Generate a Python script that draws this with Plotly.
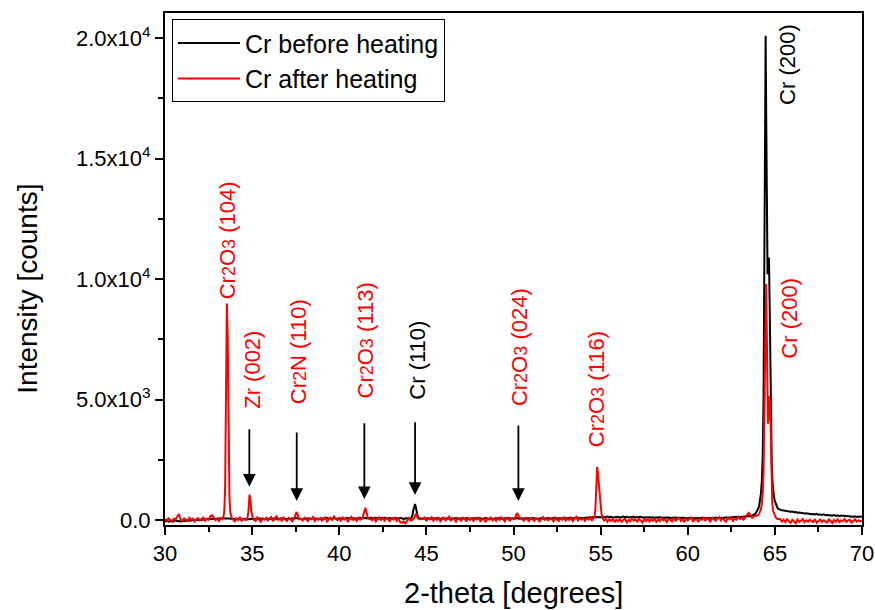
import numpy as np
import plotly.graph_objects as go

# ---- scan grid (2-theta, degrees) for the background sections ----
grid_2theta = np.round(np.arange(30.0, 70.0001, 0.1), 1)

# background counts on the 0.1 deg grid, one row per degree (30.x ... 69.x, then 70.0)
after_background = [
    40, -30, 70, 10, -80, 50, 20, 130, 250, 10,
    -50, 60, 20, -40, 90, 0, 50, -70, 30, 80,
    -20, 40, 100, -30, 60, 10, 150, 190, 60, -10,
    50, -40, 80, 30, 30, 30, 30, 30, 30, 20,
    -60, 70, 10, 120, -30, 50, 0, 30, 30, 30,
    30, 80, -40, 110, 20, -70, 60, 10, 90, -20,
    40, 120, -50, 70, 150, 0, 60, -30, 100, 20,
    -40, 80, 30, -60, 30, 30, 30, 30, 50, -30,
    90, 10, -50, 70, 20, 120, -40, 60, 0, 80,
    -30, 50, 110, -60, 30, 90, -20, 140, 40, -10,
    70, -50, 100, 20, 60, -80, 40, 130, 0, 50,
    -40, 90, 10, 30, 30, 30, 30, 30, 30, -20,
    80, -60, 40, 110, 0, 70, -30, 90, 20, -50,
    60, 10, 120, -40, 50, -90, -120, -60, -140, -20,
    80, -30, 30, 30, 30, 30, 30, 30, 40, 100,
    -50, 70, 20, 110, -30, 60, 0, 90, -60, 40,
    100, -20, 50, 130, -40, 70, 10, -70, 80, 30,
    -30, 90, 40, -60, 110, 0, 60, -40, 80, 20,
    120, -50, 30, 70, -90, 50, 10, 100, -20, 60,
    -40, 80, 0, 110, 30, -60, 90, 20, -30, 70,
    10, 60, 30, 30, 30, 30, -30, 80, 20, -50,
    90, 10, -40, 70, 40, -80, 60, 120, 0, 40,
    -20, 80, 30, -60, 100, 20, -40, 70, 10, 110,
    -30, 60, 0, 90, -50, 40, 130, -20, 70, 10,
    60, -40, 80, 20, 110, -30, 30, 30, 30, 30,
    30, 30, -20, 40, -70, 30, -40, 60, -90, 20,
    -50, 40, -80, 10, 50, -100, 0, -60, 70, -30,
    20, -70, 40, -20, -110, 30, -40, 60, -60, 10,
    -30, 50, -80, 20, -50, 80, -20, 30, -90, 40,
    10, -60, 70, -30, 40, 100, -40, 20, -70, 60,
    -20, 30, 90, -50, 10, 60, -80, 40, 0, 110,
    -40, 70, 20, -60, 90, 10, -30, 50, 120, -20,
    60, 0, -70, 80, 30, 100, -40, 50, 10, 130,
    40, 90, 10, 110, 230, 300, 180, 90, 150, 170,
    30, 30, 30, 30, 30, 30, 30, 30, 30, 30,
    30, 30, -20, 40, -70, 10, -90, 30, -50, -120,
    0, -60, -140, 20, -80, -30, 40, -100, -20, -70,
    10, -50, -90, 30, -120, -40, 20, -80, -10, -60,
    -100, 20, -40, -130, 0, -70, 30, -90, -20, -50,
    40, -80, -20, 10, -110, -40, 30, -70, -10, -60,
    -30,
]

before_background = [
    -60, -40, -70, -50, -30, -60, -20, -50, -40, -70,
    -30, -50, -20, -40, -10, -30, 0, -20, 10, -10,
    20, 0, 30, 10, 40, 20, 50, 30, 60, 40,
    50, 70, 60, 80, 60, 70, 80, 60, 50, 40,
    30, 50, 20, 40, 10, 30, 50, 20, 40, 30,
    50, 20, 60, 30, 70, 40, 60, 30, 50, 40,
    60, 30, 50, 80, 40, 60, 30, 70, 50, 40,
    30, 60, 40, 70, 50, 80, 60, 40, 50, 30,
    60, 40, 70, 30, 50, 80, 40, 60, 30, 50,
    70, 40, 60, 90, 50, 70, 40, 80, 60, 50,
    80, 50, 70, 40, 90, 60, 80, 50, 70, 60,
    80, 50, 90, 60, 100, 70, 80, 60, 90, 70,
    60, 90, 70, 50, 80, 60, 90, 70, 50, 80,
    70, 90, 60, 80, 50, 90, 60, 40, 70, 60,
    40, 60, 50, 50, 50, 50, 50, 50, 70, 60,
    50, 80, 60, 40, 70, 50, 80, 60, 40, 70,
    60, 40, 80, 50, 70, 30, 60, 80, 50, 60,
    40, 70, 50, 80, 60, 40, 70, 50, 60, 80,
    50, 70, 40, 60, 80, 50, 70, 60, 40, 60,
    70, 50, 80, 40, 60, 70, 50, 80, 60, 50,
    70, 60, 80, 50, 70, 60, 50, 80, 60, 70,
    50, 80, 60, 70, 40, 60, 80, 50, 70, 60,
    80, 50, 70, 60, 90, 50, 70, 80, 60, 70,
    60, 80, 70, 90, 60, 80, 70, 90, 80, 70,
    90, 80, 100, 90, 110, 100, 120, 110, 130, 120,
    110, 130, 100, 120, 140, 110, 130, 100, 120, 110,
    130, 100, 120, 140, 110, 130, 100, 120, 110, 130,
    100, 120, 110, 130, 100, 110, 120, 100, 110, 90,
    110, 90, 100, 80, 110, 90, 100, 80, 90, 100,
    80, 90, 70, 100, 80, 90, 70, 80, 90, 70,
    80, 70, 90, 60, 80, 90, 70, 80, 60, 90,
    70, 90, 80, 60, 90, 70, 100, 80, 90, 70,
    90, 80, 110, 90, 100, 120, 100, 110, 130, 110,
    120, 140, 130, 150, 140, 160, 150, 180, 190, 200,
    200, 200, 200, 200, 200, 200, 200, 200, 200, 200,
    200, 200, 200, 420, 400, 390, 370, 380, 350, 340,
    350, 320, 330, 300, 310, 290, 300, 270, 280, 260,
    270, 240, 250, 230, 250, 220, 230, 210, 230, 200,
    210, 190, 200, 180, 200, 170, 190, 160, 180, 170,
    160, 150, 170, 140, 150, 130, 150, 120, 140, 130,
    130,
]

# ---- diffraction peaks, sampled finer than the background ----
before_peak_2theta = [
    44.10, 44.15, 44.20, 44.25, 44.30, 44.35, 44.40, 44.45, 44.50, 44.55,
    63.80, 63.85, 63.90, 63.95, 64.00, 64.05, 64.10, 64.15, 64.20, 64.25,
    64.30, 64.35, 64.40, 64.44, 64.47, 64.50, 64.54, 64.58, 64.62, 64.66,
    64.70, 64.74, 64.78, 64.82, 64.86, 64.90, 64.95, 65.00, 65.05, 65.10,
    65.15, 65.20,
]
before_peak_counts = [
    60, 100, 200, 400, 620, 660, 520, 300, 150, 80,
    210, 240, 280, 330, 400, 480, 600, 800, 1100, 1600,
    2600, 5000, 11500, 18500, 20100, 17000, 12000, 10200, 10700, 10900,
    9000, 6000, 3600, 2300, 1600, 1250, 950, 780, 650, 560,
    500, 460,
]

after_peak_2theta = [
    33.30, 33.35, 33.40, 33.45, 33.50, 33.55, 33.60, 33.65, 33.70, 33.75, 33.80, 33.85,
    34.70, 34.75, 34.80, 34.85, 34.90, 34.95, 35.00, 35.05,
    37.40, 37.45, 37.50, 37.55, 37.60, 37.65, 37.70,
    41.30, 41.35, 41.40, 41.45, 41.50, 41.55, 41.60, 41.65,
    44.25, 44.30, 44.35, 44.40, 44.45, 44.50,
    50.05, 50.10, 50.15, 50.20, 50.25, 50.30, 50.35,
    54.60, 54.65, 54.70, 54.75, 54.80, 54.85, 54.90, 54.95, 55.00, 55.05, 55.10,
    64.00, 64.05, 64.10, 64.15, 64.20, 64.25, 64.30, 64.35, 64.40, 64.45,
    64.50, 64.55, 64.60, 64.65, 64.70, 64.75, 64.80, 64.85, 64.90, 64.95,
    65.00, 65.05, 65.10, 65.15,
]
after_peak_counts = [
    40, 120, 350, 1300, 5200, 8990, 7600, 3200, 900, 300, 120, 60,
    60, 150, 450, 1050, 820, 380, 160, 50,
    40, 110, 250, 330, 240, 120, 30,
    50, 130, 300, 480, 500, 360, 160, 60,
    30, 90, 200, 260, 190, 80,
    40, 110, 230, 280, 230, 140, 60,
    60, 150, 450, 1500, 2200, 1900, 1400, 1300, 700, 250, 90,
    160, 200, 260, 330, 450, 650, 1100, 2000, 4500, 8000,
    9800, 7000, 4000, 4300, 5150, 4200, 1700, 700, 380, 250,
    160, 100, 60, 40,
]

# ---- peak assignments ----
label_names = [
    "Cr2O3 (104)", "Zr (002)", "Cr2N (110)", "Cr2O3 (113)", "Cr (110)",
    "Cr2O3 (024)", "Cr2O3 (116)", "Cr (200)", "Cr (200)",
]
label_2theta = [33.6, 34.98, 37.66, 41.52, 44.44, 50.35, 54.81, 65.76, 65.87]
label_counts = [11600, 6225, 6985, 7440, 6640, 7160, 5440, 18900, 8360]
label_colors = ["red", "red", "red", "red", "black", "red", "red", "black", "red"]

# ---- marker arrows for weak reflections ----
arrow_2theta = [34.84, 37.56, 41.44, 44.35, 50.28]
arrow_tail_counts = [3830, 3690, 4080, 4120, 3980]
arrow_tip_counts = [1380, 790, 870, 1040, 790]

y_tick_values = [0, 5000, 10000, 15000, 20000]
y_tick_labels = ["0.0", "5.0x10<sup>3</sup>", "1.0x10<sup>4</sup>",
                 "1.5x10<sup>4</sup>", "2.0x10<sup>4</sup>"]
x_tick_values = [30, 35, 40, 45, 50, 55, 60, 65, 70]


def merge(grid_x, grid_y, peak_x, peak_y):
    """Combine background grid with finely sampled peaks (peaks take priority)."""
    gx = np.asarray(grid_x, float)
    gy = np.asarray(grid_y, float)
    px = np.asarray(peak_x, float)
    py = np.asarray(peak_y, float)
    keep = np.array([np.min(np.abs(px - v)) > 0.06 for v in gx])
    x = np.concatenate([gx[keep], px])
    y = np.concatenate([gy[keep], py])
    order = np.argsort(x)
    return x[order], y[order]


def chem(label):
    """Render the digits of Cr2O3 / Cr2N slightly smaller."""
    head, _, tail = label.partition(" ")
    out = ""
    for ch in head:
        if ch.isdigit():
            out += '<span style="font-size:18px">' + ch + "</span>"
        else:
            out += ch
    return out + " " + tail


bx, by = merge(grid_2theta, before_background, before_peak_2theta, before_peak_counts)
ax_, ay_ = merge(grid_2theta, after_background, after_peak_2theta, after_peak_counts)

FONT = "Arial, Liberation Sans, sans-serif"

fig = go.Figure()
fig.add_trace(go.Scatter(x=bx, y=by, mode="lines", name="Cr before heating",
                         line=dict(color="black", width=2)))
fig.add_trace(go.Scatter(x=ax_, y=ay_, mode="lines", name="Cr after heating",
                         line=dict(color="#ff0000", width=2)))

for name, x, y, c in zip(label_names, label_2theta, label_counts, label_colors):
    fig.add_annotation(x=x, y=y, text=chem(name), showarrow=False, textangle=-90,
                       xanchor="center", yanchor="middle",
                       font=dict(family=FONT, size=22, color=c))

for x, y0, y1 in zip(arrow_2theta, arrow_tail_counts, arrow_tip_counts):
    fig.add_annotation(x=x, y=y1, ax=x, ay=y0, xref="x", yref="y",
                       axref="x", ayref="y", text="", showarrow=True,
                       arrowhead=2, arrowsize=1.4, arrowwidth=1.8,
                       arrowcolor="black")

# axis titles, placed in paper coordinates
fig.add_annotation(x=0.5, y=-0.133, xref="paper", yref="paper",
                   text="2-theta [degrees]", showarrow=False,
                   xanchor="center", yanchor="middle",
                   font=dict(family=FONT, size=29, color="black"))
fig.add_annotation(x=-0.197, y=0.461, xref="paper", yref="paper",
                   text="Intensity [counts]", showarrow=False, textangle=-90,
                   xanchor="center", yanchor="middle",
                   font=dict(family=FONT, size=28, color="black"))

axis_common = dict(showline=True, linecolor="black", linewidth=2, mirror=True,
                   ticks="outside", ticklen=8, tickwidth=1.5, tickcolor="black",
                   showgrid=False, zeroline=False, automargin=False,
                   tickfont=dict(family=FONT, size=22, color="black"))

fig.update_xaxes(range=[30, 70], tickmode="array", tickvals=x_tick_values,
                 minor=dict(ticks="outside", ticklen=5, tickwidth=1.5,
                            tickcolor="black", dtick=2.5, tick0=30),
                 **axis_common)
fig.update_yaxes(range=[-210, 21050], tickmode="array", tickvals=y_tick_values,
                 ticktext=y_tick_labels,
                 minor=dict(ticks="outside", ticklen=5, tickwidth=1.5,
                            tickcolor="black", dtick=2500, tick0=0),
                 **axis_common)

fig.update_layout(
    width=875, height=610,
    margin=dict(l=165, r=13, t=13, b=85),
    paper_bgcolor="white", plot_bgcolor="white",
    font=dict(family=FONT, color="black"),
    showlegend=True,
    legend=dict(x=0.01, y=0.988, xanchor="left", yanchor="top",
                bgcolor="white", bordercolor="black", borderwidth=1,
                font=dict(family=FONT, size=25, color="black"),
                tracegroupgap=0, itemwidth=62),
)

fig.write_html("out.html")
